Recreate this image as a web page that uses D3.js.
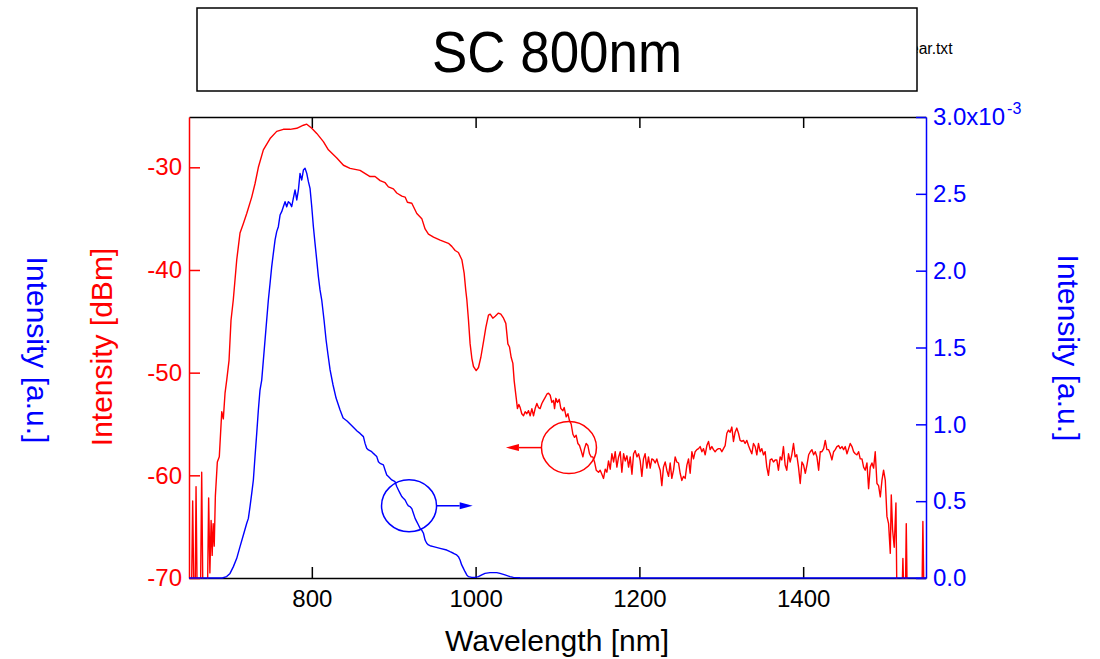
<!DOCTYPE html>
<html>
<head>
<meta charset="utf-8">
<script src="https://cdn.jsdelivr.net/npm/d3@7"></script>
<style>
  body { margin: 0; background: #fff; }
</style>
</head>
<body>
<div id="chart"></div>
<script>
const width = 1100;
const height = 659;
const margin = { top: 117, right: 174, bottom: 81, left: 189 };
const font = '"Liberation Sans", Arial, sans-serif';
const red = '#ff0000';
const blue = '#0000ff';

// OSA trace, [wavelength nm, power dBm] (values below -70 fall off the axis)
const osaTrace = [
  [650,-72],[653,-72],[654.5,-62.5],[656,-72],[657.5,-72],[658.6,-61.1],[660,-72],[664,-72],
  [665.5,-59.7],[667,-72],[672.5,-72],[674,-62.2],[675.5,-69.5],[677,-64.4],[678.3,-67.8],
  [679.5,-64.7],[680.8,-66.9],[682.2,-62.0],[684.6,-58.7],[687,-58.2],[690,-53.8],[691.9,-54.5],
  [694,-52.0],[696.1,-50.7],[698.9,-48.8],[701.3,-44.9],[704.1,-42.9],[708.3,-39.0],[710.3,-37.7],
  [712.3,-36.4],[716.3,-35.5],[720.5,-34.5],[726.6,-32.9],[730.6,-31.6],[734.7,-30.0],[740.8,-28.3],
  [749,-27.2],[757.1,-26.5],[765.2,-26.3],[773.4,-26.3],[781.6,-26.2],[789.7,-25.9],[793.8,-25.8],
  [799.9,-26.2],[806,-26.7],[814.1,-27.5],[820.2,-28.3],[830.5,-29.1],[838.6,-29.8],[846.7,-30.1],
  [858.9,-30.3],[871.1,-30.9],[877.2,-30.9],[883.4,-31.3],[889.5,-31.5],[893.5,-31.9],[899.6,-32.1],
  [903.7,-32.5],[909.9,-32.8],[913.9,-32.9],[916.7,-33.4],[922.1,-33.5],[928.2,-34.5],[934.3,-35.0],
  [938.3,-36.0],[942.4,-36.5],[948.6,-36.8],[956.7,-37.1],[966.8,-37.4],[970.9,-37.7],[975,-38.1],
  [979,-38.3],[983.2,-39.0],[986,-40.3],[988,-42.0],[989.3,-42.9],[991.3,-44.9],[993.3,-47.2],
  [995.4,-48.6],[997.4,-49.4],[1000.7,-49.8],[1003.5,-49.5],[1006.4,-48.5],[1009.6,-47.0],
  [1012.5,-45.6],[1015.7,-44.4],[1017.8,-44.3],[1021.0,-44.7],[1023.9,-44.5],[1027.9,-44.2],
  [1030.8,-44.3],[1034.1,-44.7],[1036.9,-45.2],[1039.4,-47.2],[1041.4,-47.5],[1043.4,-48.5],
  [1045.5,-49.1],[1047.1,-50.8],[1049.5,-52.4],[1051.1,-53.5],[1052.8,-53.1],[1054.4,-53.4],
  [1056.4,-54.0],[1058.5,-54.2],[1060.5,-53.8],[1062.5,-54.0],[1064.6,-53.7],[1066.6,-54.2],
  [1068.7,-53.5],[1070.7,-54.2],[1072.7,-53.5],[1074.8,-53.0],[1076.8,-53.4],[1078.8,-53.5],
  [1080.9,-53.0],[1082.9,-52.7],[1085.0,-52.4],[1087.0,-52.1],[1089.0,-52.0],[1091.1,-52.2],
  [1093.1,-52.9],[1095.1,-52.7],[1096.4,-53.5],[1098.0,-52.5],[1100.0,-52.9],[1102.1,-52.6],
  [1104.1,-53.5],[1106.6,-53.7],[1108.2,-53.4],[1110.6,-54.3],[1112.7,-54.0],[1114.7,-54.7],
  [1116.7,-55.0],[1118.8,-56.0],[1120.8,-56.3],[1122.8,-56.1],[1124.9,-56.9],[1126.9,-57.1],
  [1128.9,-57.6],[1131.0,-58.2],[1133.0,-57.4],[1135.0,-56.9],[1137.1,-57.1],[1139.1,-57.9],
  [1141.1,-58.2],[1143.2,-58.2],[1145.2,-58.7],[1147.3,-59.5],[1150.1,-59.7],[1152.1,-59.5],
  [1154.2,-59.9],[1156.2,-60.3],[1158.3,-59.4],[1160.3,-59.7],[1162.3,-58.6],[1164.4,-59.4],
  [1166.4,-57.9],[1168.5,-58.7],[1170.5,-57.7],[1172.5,-59.2],[1174.6,-58.2],[1176.6,-57.7],
  [1178.6,-59.7],[1180.7,-57.9],[1182.7,-58.6],[1184.8,-58.1],[1186.8,-59.2],[1188.8,-58.2],
  [1190.9,-59.9],[1192.9,-57.9],[1194.9,-57.6],[1197.0,-58.2],[1199.0,-57.9],[1201.0,-58.6],
  [1203.0,-60.1],[1205.0,-58.4],[1207.0,-57.9],[1209.1,-59.3],[1211.1,-58.2],[1213.2,-59.3],
  [1215.2,-58.4],[1217.2,-58.5],[1219.3,-58.8],[1221.3,-58.4],[1223.3,-59.0],[1225.4,-59.5],
  [1227.4,-61.0],[1229.4,-59.2],[1231.5,-58.7],[1233.5,-59.5],[1235.6,-60.1],[1237.6,-58.8],
  [1239.6,-60.3],[1241.7,-59.5],[1243.7,-58.2],[1245.7,-58.7],[1247.8,-58.8],[1249.8,-59.8],
  [1251.8,-60.5],[1253.9,-60.1],[1255.9,-60.3],[1258.0,-59.0],[1260.0,-58.4],[1262.0,-59.8],
  [1264.1,-57.7],[1266.1,-58.4],[1268.1,-57.7],[1270.2,-57.5],[1272.2,-57.4],[1274.2,-57.2],
  [1276.3,-57.7],[1278.3,-57.4],[1280.3,-58.0],[1282.4,-57.1],[1284.4,-56.7],[1286.4,-57.5],
  [1288.5,-57.2],[1290.5,-57.5],[1292.5,-57.7],[1294.6,-57.5],[1296.6,-57.4],[1298.6,-57.4],
  [1300.7,-57.7],[1302.7,-57.4],[1304.7,-57.1],[1306.8,-55.9],[1308.8,-55.6],[1310.8,-55.8],
  [1312.9,-55.3],[1314.9,-56.7],[1316.9,-55.8],[1319.0,-55.4],[1321.0,-55.9],[1323.0,-56.6],
  [1325.1,-56.7],[1327.1,-56.6],[1329.1,-56.9],[1331.2,-56.6],[1333.2,-57.1],[1335.2,-57.5],
  [1337.3,-57.9],[1339.3,-56.9],[1341.4,-57.2],[1343.4,-58.0],[1345.4,-56.9],[1347.5,-57.7],
  [1349.5,-57.4],[1351.5,-58.0],[1353.6,-57.7],[1355.6,-59.2],[1357.6,-60.0],[1359.7,-58.5],
  [1361.7,-58.4],[1363.7,-58.7],[1365.8,-58.5],[1367.8,-58.5],[1369.8,-59.5],[1371.9,-58.2],
  [1373.9,-58.5],[1375.9,-57.2],[1378.0,-59.0],[1380.0,-59.5],[1382.1,-57.9],[1384.1,-58.7],
  [1386.1,-58.0],[1388.2,-56.9],[1390.2,-58.2],[1392.2,-58.0],[1394.3,-59.2],[1396.4,-60.8],
  [1398.5,-58.7],[1400.5,-59.0],[1402.6,-59.8],[1404.6,-59.0],[1406.7,-58.0],[1408.7,-57.7],
  [1410.7,-57.5],[1412.8,-58.0],[1414.8,-57.7],[1416.8,-58.2],[1418.9,-59.5],[1420.9,-57.7],
  [1422.9,-57.7],[1425.0,-57.4],[1427.0,-56.6],[1429.0,-57.5],[1431.1,-57.5],[1433.1,-57.9],
  [1435.1,-58.5],[1437.2,-57.7],[1439.2,-57.5],[1441.2,-57.2],[1443.3,-57.1],[1445.3,-57.4],
  [1447.4,-57.2],[1449.4,-57.5],[1451.4,-57.2],[1453.5,-57.9],[1455.5,-57.4],[1457.5,-56.9],
  [1459.6,-57.2],[1461.6,-57.7],[1463.6,-57.9],[1465.7,-58.0],[1467.7,-57.7],[1469.7,-58.4],
  [1471.8,-58.4],[1473.8,-59.2],[1475.8,-59.5],[1477.9,-58.8],[1479.9,-61.3],[1481.9,-59.2],
  [1484.0,-58.8],[1486.0,-59.3],[1488.0,-57.7],[1490.1,-60.8],[1492.1,-61.0],[1494.2,-62.1],
  [1496.2,-60.5],[1498.2,-59.5],[1500.3,-60.5],[1502.3,-64.0],[1504.3,-64.7],[1506.4,-67.6],
  [1507.6,-61.9],[1509.2,-65.3],[1511.2,-67.0],[1513.3,-62.7],[1514.5,-72],[1520.6,-72],
  [1521.8,-68.1],[1523,-72],[1524.8,-72],[1525.9,-64.7],[1527.1,-72],[1545,-72],[1546.2,-64.5],
  [1547.5,-72],[1550,-72]
];

// linear trace, [wavelength nm, intensity in units of 1e-3 a.u.]
const linearTrace = [
  [650,0],[690.7,0],[696.0,0.009],[700.1,0.030],[704.2,0.074],[708.3,0.128],[712.3,0.204],
  [716.4,0.280],[720.5,0.356],[722.5,0.388],[724.5,0.464],[726.6,0.551],[728.6,0.638],[730.6,0.789],
  [732.7,0.941],[734.7,1.093],[736.7,1.223],[738.8,1.288],[746.9,1.809],[749.0,1.918],[751.0,2.026],
  [753.0,2.113],[755.1,2.200],[757.1,2.254],[759.1,2.286],[761.2,2.362],[763.2,2.384],[765.2,2.416],
  [767.3,2.449],[769.3,2.416],[771.3,2.449],[773.4,2.438],[775.4,2.416],[777.4,2.471],[779.5,2.525],
  [781.6,2.460],[783.6,2.525],[785.6,2.633],[787.7,2.590],[789.7,2.655],[791.7,2.666],[793.8,2.633],
  [795.8,2.579],[797.8,2.536],[799.9,2.416],[801.9,2.286],[803.9,2.178],[806.0,2.069],[808.0,1.961],
  [810.0,1.875],[812.1,1.809],[814.9,1.679],[817.4,1.549],[819.8,1.451],[822.3,1.354],[825.9,1.256],
  [829.6,1.171],[834.5,1.093],[838.2,1.041],[843.0,1.022],[846.7,1.002],[851.6,0.976],[855.2,0.957],
  [858.9,0.941],[863.0,0.920],[865.0,0.876],[867.0,0.844],[869.1,0.833],[873.1,0.822],[875.2,0.811],
  [877.2,0.801],[879.3,0.790],[881.3,0.757],[883.3,0.746],[887.4,0.736],[889.4,0.703],[891.5,0.670],
  [893.5,0.660],[897.6,0.638],[901.6,0.627],[903.7,0.595],[905.7,0.573],[907.8,0.551],[909.8,0.530],
  [911.8,0.519],[913.9,0.508],[915.9,0.486],[917.9,0.469],[920.0,0.464],[922.0,0.453],[924.0,0.421],
  [926.1,0.388],[928.1,0.367],[930.2,0.345],[932.2,0.323],[934.2,0.312],[936.3,0.291],[938.3,0.247],
  [940.3,0.226],[942.4,0.215],[944.4,0.210],[948.5,0.204],[956.6,0.193],[964.7,0.182],[968.8,0.171],
  [972.9,0.161],[976.9,0.150],[979.0,0.139],[981.0,0.117],[983.0,0.085],[985.1,0.063],[987.1,0.041],
  [989.2,0.020],[991.2,0.009],[995.3,0.004],[999.3,0.004],[1003.4,0.009],[1007.5,0.020],[1011.5,0.030],
  [1017.6,0.035],[1025.8,0.035],[1029.8,0.030],[1035.9,0.020],[1042.0,0.009],[1046.1,0.004],
  [1054.3,0.002],[1152,0],[1550,0]
];

const xTicks = [800, 1000, 1200, 1400];
const dbmTicks = [-30, -40, -50, -60, -70];
const auTicks = [0, 0.5, 1.0, 1.5, 2.0, 2.5, 3.0];

// circle + arrow pointing at the axis each trace belongs to
const notes = [
  { wl: 1114, v: -57.3, side: 'left', tip: 1037, color: red },
  { wl: 918.7, v: 0.47, side: 'right', tip: 996.4, color: blue }
];

const svg = d3.select('#chart')
  .append('svg')
  .attr('width', width)
  .attr('height', height)
  .style('font-family', font)
  .style('background', '#fff');

const x = d3.scaleLinear()
  .domain([650, 1550])
  .range([margin.left, width - margin.right]);

const yL = d3.scaleLinear()
  .domain([-70, -25.1])
  .range([height - margin.bottom, margin.top]);

const yR = d3.scaleLinear()
  .domain([0, 3])
  .range([height - margin.bottom, margin.top]);

// title box (file name peeks out behind it)
svg.append('text')
  .attr('x', 952.5).attr('y', 54)
  .attr('text-anchor', 'end')
  .attr('font-size', 15.6)
  .text('linear.txt');

svg.append('rect')
  .attr('x', 197).attr('y', 8)
  .attr('width', 720).attr('height', 83)
  .attr('fill', '#fff')
  .attr('stroke', '#000')
  .attr('stroke-width', 1.5);

svg.append('text')
  .attr('x', 557).attr('y', 72)
  .attr('text-anchor', 'middle')
  .attr('font-size', 57)
  .attr('textLength', 250)
  .attr('lengthAdjust', 'spacingAndGlyphs')
  .text('SC 800nm');

function styleAxis(g, color, size) {
  g.attr('font-family', font).attr('font-size', size);
  g.select('.domain').attr('stroke', color).attr('stroke-width', 1.5);
  g.selectAll('.tick line').attr('stroke', color).attr('stroke-width', 1.5);
  g.selectAll('.tick text').attr('fill', color);
}

const y0 = height - margin.bottom;
const x1 = width - margin.right;
const tickFont = 24;

svg.append('g')
  .attr('transform', `translate(0,${margin.top})`)
  .call(d3.axisTop(x).tickValues(xTicks).tickSizeInner(-11).tickSizeOuter(0).tickFormat(''))
  .call(g => styleAxis(g, '#000', tickFont));

svg.append('g')
  .attr('transform', `translate(0,${y0})`)
  .call(d3.axisBottom(x).tickValues(xTicks).tickSizeInner(-11).tickSizeOuter(0).tickPadding(12).tickFormat(d => String(d)))
  .call(g => styleAxis(g, '#000', tickFont));

svg.append('g')
  .attr('transform', `translate(${margin.left},0)`)
  .call(d3.axisLeft(yL).tickValues(dbmTicks).tickSizeInner(-11).tickSizeOuter(0).tickPadding(7).tickFormat(d => String(d)))
  .call(g => styleAxis(g, red, tickFont));

const rightAxis = svg.append('g')
  .attr('transform', `translate(${x1},0)`)
  .call(d3.axisRight(yR).tickValues(auTicks).tickSizeInner(-10).tickSizeOuter(0).tickPadding(7).tickFormat(d3.format('.1f')))
  .call(g => styleAxis(g, blue, tickFont));

rightAxis.selectAll('.tick text')
  .filter(d => d === 3)
  .text('3.0x10')
  .append('tspan')
  .attr('dy', -11)
  .attr('dx', 2)
  .attr('font-size', 16)
  .text('-3');

// axis titles
svg.append('text')
  .attr('transform', 'translate(557,651)')
  .attr('text-anchor', 'middle')
  .attr('font-size', 30)
  .text('Wavelength [nm]');

svg.append('text')
  .attr('transform', 'translate(112,347) rotate(-90)')
  .attr('text-anchor', 'middle')
  .attr('font-size', 30)
  .attr('fill', red)
  .text('Intensity [dBm]');

svg.append('text')
  .attr('transform', 'translate(26.5,350) rotate(90)')
  .attr('text-anchor', 'middle')
  .attr('font-size', 30)
  .attr('fill', blue)
  .text('Intensity [a.u.]');

svg.append('text')
  .attr('transform', 'translate(1058,348) rotate(90)')
  .attr('text-anchor', 'middle')
  .attr('font-size', 30)
  .attr('fill', blue)
  .text('Intensity [a.u.]');

// traces
svg.append('clipPath')
  .attr('id', 'plot-clip')
  .append('rect')
  .attr('x', margin.left)
  .attr('y', margin.top)
  .attr('width', x1 - margin.left)
  .attr('height', y0 - margin.top + 1);

const plot = svg.append('g').attr('clip-path', 'url(#plot-clip)');

plot.append('path')
  .datum(osaTrace)
  .attr('fill', 'none')
  .attr('stroke', red)
  .attr('stroke-width', 1.4)
  .attr('stroke-linejoin', 'round')
  .attr('d', d3.line().x(d => x(d[0])).y(d => yL(d[1])));

plot.append('path')
  .datum(linearTrace)
  .attr('fill', 'none')
  .attr('stroke', blue)
  .attr('stroke-width', 1.4)
  .attr('stroke-linejoin', 'round')
  .attr('d', d3.line().x(d => x(d[0])).y(d => yR(d[1])));

// annotations
const rx = 27.5, ry = 26, head = 13;
notes.forEach(n => {
  const cx = x(n.wl);
  const cy = n.side === 'left' ? yL(n.v) : yR(n.v);
  const tx = x(n.tip);
  const dir = tx < cx ? -1 : 1;
  const start = cx + dir * rx;

  svg.append('ellipse')
    .attr('cx', cx).attr('cy', cy)
    .attr('rx', rx).attr('ry', ry)
    .attr('fill', 'none')
    .attr('stroke', n.color)
    .attr('stroke-width', 1.5);

  svg.append('line')
    .attr('x1', start).attr('y1', cy)
    .attr('x2', tx - dir * head).attr('y2', cy)
    .attr('stroke', n.color)
    .attr('stroke-width', 1.5);

  svg.append('path')
    .attr('d', `M${tx},${cy}L${tx - dir * head},${cy - 3.5}L${tx - dir * head},${cy + 3.5}Z`)
    .attr('fill', n.color);
});
</script>
</body>
</html>
